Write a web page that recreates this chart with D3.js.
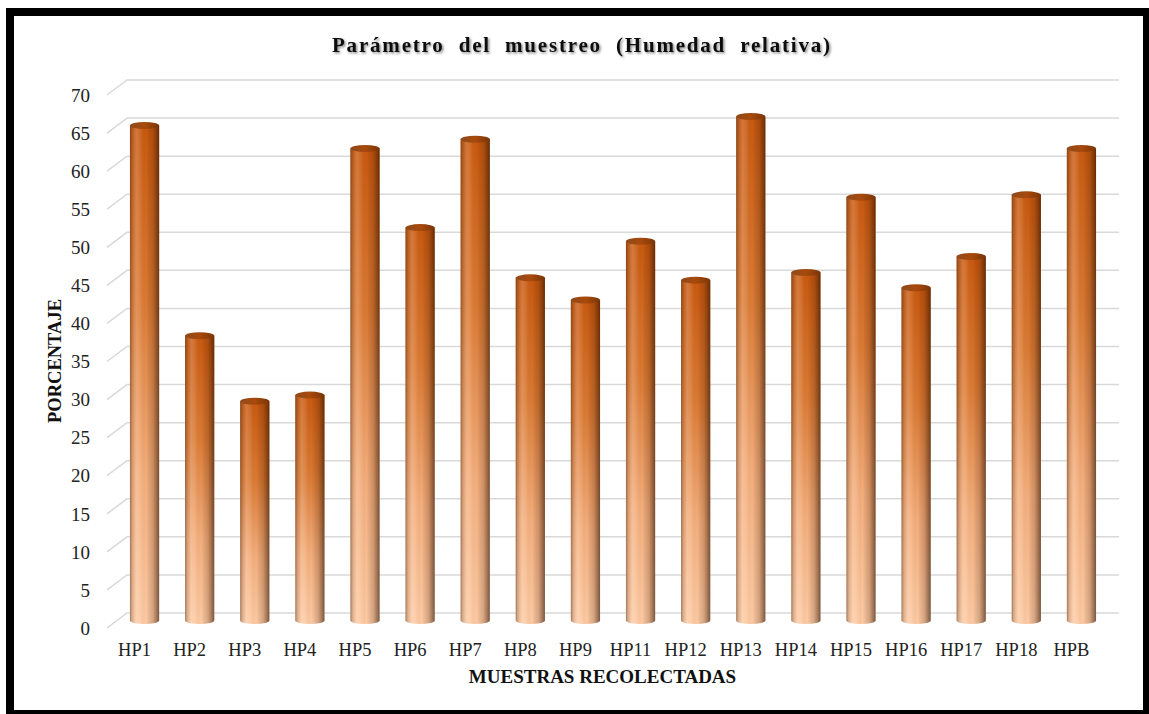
<!DOCTYPE html>
<html>
<head>
<meta charset="utf-8">
<script src="https://cdn.jsdelivr.net/npm/d3@7"></script>
<style>
  html, body { margin: 0; padding: 0; background: #fff; }
  svg { display: block; }
</style>
</head>
<body>
<svg id="chart" width="1149" height="714"></svg>
<script>
const categories = ["HP1","HP2","HP3","HP4","HP5","HP6","HP7","HP8","HP9","HP11","HP12","HP13","HP14","HP15","HP16","HP17","HP18","HPB"];
const values = [65, 37.4, 28.8, 29.6, 62, 51.6, 63.2, 45, 42.1, 49.8, 44.7, 66.2, 45.7, 55.6, 43.7, 47.8, 55.9, 62];
const yTicks = [0,5,10,15,20,25,30,35,40,45,50,55,60,65,70];
const titleText = "Parámetro del muestreo (Humedad relativa)";
const yTitle = "PORCENTAJE";
const xTitle = "MUESTRAS RECOLECTADAS";

const svg = d3.select("#chart");
const W = 1149, H = 714;
const serif = "'Liberation Serif', 'Times New Roman', serif";

// 3D depth offset (front plane -> back wall)
const depthX = 20, depthY = -15;

// front-plane scales
const x = d3.scaleBand().domain(categories).range([107, 1099]).paddingInner(0.47).paddingOuter(0.235);
const y = d3.scaleLinear().domain([0, 70]).range([628, 95]);

// defs: gradients
const defs = svg.append("defs");
const vg = defs.append("linearGradient").attr("id", "vgrad")
  .attr("x1", 0).attr("y1", 0).attr("x2", 0).attr("y2", 1);
vg.append("stop").attr("offset", "0%").attr("stop-color", "#c9590f");
vg.append("stop").attr("offset", "35%").attr("stop-color", "#db7a33");
vg.append("stop").attr("offset", "70%").attr("stop-color", "#f4ae7c");
vg.append("stop").attr("offset", "100%").attr("stop-color", "#fdcaa3");

const hg = defs.append("linearGradient").attr("id", "hgrad")
  .attr("x1", 0).attr("y1", 0).attr("x2", 1).attr("y2", 0);
[[0, "#3c2a20", 0.5], [0.08, "#6e5040", 0.22], [0.22, "#ffffff", 0.18], [0.35, "#ffffff", 0.1],
 [0.55, "#000000", 0.0], [0.78, "#3a1500", 0.2], [0.92, "#2a1000", 0.45], [1, "#200c00", 0.6]]
  .forEach(s => hg.append("stop").attr("offset", s[0]).attr("stop-color", s[1]).attr("stop-opacity", s[2]));

const capg = defs.append("linearGradient").attr("id", "capgrad")
  .attr("x1", 0).attr("y1", 0).attr("x2", 1).attr("y2", 0);
capg.append("stop").attr("offset", "0%").attr("stop-color", "#8e4a1c");
capg.append("stop").attr("offset", "50%").attr("stop-color", "#a84a0c");
capg.append("stop").attr("offset", "100%").attr("stop-color", "#7a3507");

const shadow = defs.append("filter").attr("id", "tshadow").attr("x", "-5%").attr("y", "-30%").attr("width", "110%").attr("height", "160%");
shadow.append("feDropShadow").attr("dx", 1.5).attr("dy", 1.5).attr("stdDeviation", 1.2)
  .attr("flood-color", "#000").attr("flood-opacity", 0.45);

// border frame
svg.append("rect").attr("x", 10).attr("y", 12).attr("width", 1137).attr("height", 702)
  .attr("fill", "none").attr("stroke", "#000").attr("stroke-width", 8);

// gridlines (3D wall)
const grid = svg.append("g").attr("stroke", "#d9d9d9").attr("stroke-width", 1.5).attr("fill", "none");
yTicks.forEach(v => {
  const yf = y(v);
  grid.append("path").attr("d",
    `M${x.range()[0]},${yf} L${x.range()[0] + depthX},${yf + depthY} L${x.range()[1] + depthX},${yf + depthY}`);
});

// y axis labels
const yAxis = d3.axisLeft(y).tickValues(yTicks).tickSize(0).tickPadding(0);
const gy = svg.append("g").attr("transform", "translate(90,0)").call(yAxis);
gy.select(".domain").remove();
gy.selectAll("text").attr("font-family", serif).attr("font-size", 19).attr("fill", "#222").attr("dy", "0.33em");

// x axis labels
const xAxis = d3.axisBottom(x).tickSize(0).tickPadding(0);
const gx = svg.append("g").attr("transform", "translate(0,643)").call(xAxis);
gx.select(".domain").remove();
gx.selectAll("text").attr("font-family", serif).attr("font-size", 18.5).attr("fill", "#222").attr("dy", "0.71em");

// cylinders at mid-depth
const midX = depthX / 2, midY = depthY / 2;
const bw = x.bandwidth();
const ry = 3.5;
const bars = svg.append("g").selectAll("g").data(categories.map((c, i) => ({c, v: values[i]}))).join("g");
bars.each(function(d) {
  const g = d3.select(this);
  const x0 = x(d.c) + midX;
  const yt = y(d.v) + midY;
  const yb = y(0) + midY;
  const bodyPath = `M${x0},${yt} L${x0},${yb} A${bw/2},${ry} 0 0 0 ${x0 + bw},${yb} L${x0 + bw},${yt} Z`;
  g.append("path").attr("d", bodyPath).attr("fill", "url(#vgrad)");
  g.append("path").attr("d", bodyPath).attr("fill", "url(#hgrad)");
  g.append("ellipse").attr("cx", x0 + bw/2).attr("cy", yt).attr("rx", bw/2).attr("ry", ry)
    .attr("fill", "url(#capgrad)");
});

// title
const t = svg.append("text").attr("x", 581).attr("y", 52).attr("text-anchor", "middle")
  .attr("font-family", serif).attr("font-weight", "bold").attr("font-size", 21)
  .attr("fill", "#111").attr("filter", "url(#tshadow)")
  .attr("textLength", 498).attr("lengthAdjust", "spacing")
  .style("white-space", "pre")
  .text(titleText.replace(/ /g, "  "));

// axis titles
svg.append("text").attr("transform", "translate(61,361) rotate(-90)").attr("text-anchor", "middle")
  .attr("font-family", serif).attr("font-weight", "bold").attr("font-size", 18.5).attr("fill", "#111")
  .text(yTitle);
svg.append("text").attr("x", 602.5).attr("y", 683).attr("text-anchor", "middle")
  .attr("font-family", serif).attr("font-weight", "bold").attr("font-size", 19).attr("fill", "#111")
  .text(xTitle);
</script>
</body>
</html>
